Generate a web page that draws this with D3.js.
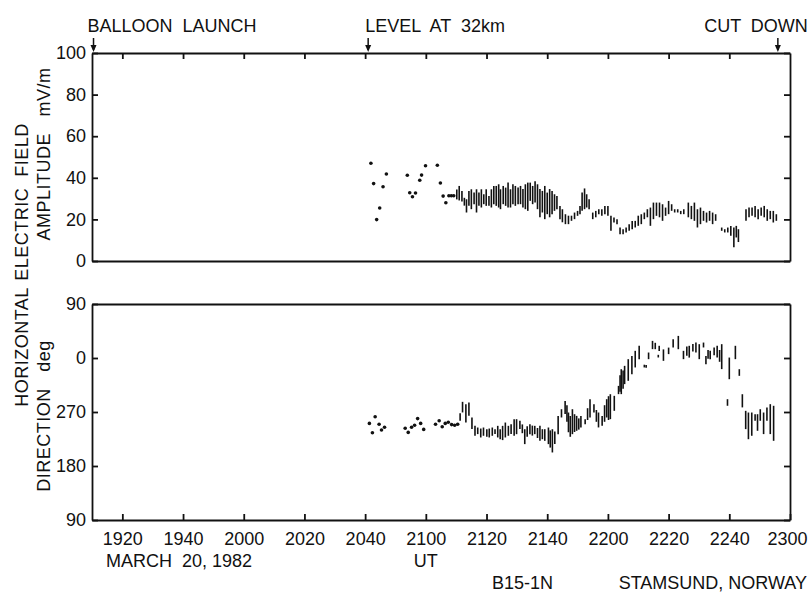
<!DOCTYPE html>
<html>
<head>
<meta charset="utf-8">
<script src="https://cdn.jsdelivr.net/npm/d3@7"></script>
<style>
  body { margin: 0; background: #fff; }
  svg text { font-family: "Liberation Sans", Arial, sans-serif; fill: #111; }
</style>
</head>
<body>
<div id="chart"></div>
<script>
// time is minutes after 19:00 UT (10 = 1910, 240 = 2300)
var timeTicks = [20, 40, 60, 80, 100, 120, 140, 160, 180, 200, 220, 240];
var ampTicks = [0, 20, 40, 60, 80, 100];
var dirTicks = [90, 180, 270, 360, 450];

var eventNames = ["BALLOON  LAUNCH", "LEVEL  AT  32km", "CUT  DOWN"];
var eventTimes = [10.5, 101, 236];

// amplitude, single points (mV/m)
var ampDotT = [101.9, 102.8, 103.8, 104.8, 105.9, 107.0, 113.9, 114.7, 115.6, 116.6, 118.0, 118.6, 119.9,
  123.8, 124.8, 125.7, 126.6, 127.6, 128.4, 129.2];
var ampDotV = [47, 37.2, 19.9, 25.5, 35.7, 41.8, 41.2, 32.8, 30.9, 32.7, 38.8, 41.3, 45.8,
  46, 37.5, 31.2, 28, 31.4, 31.4, 31.4];

// amplitude, min/max bars (mV/m)
var ampBarT = [130.2, 131.0, 131.9, 132.7, 133.4, 134.2, 135.0, 135.9, 136.7, 137.5, 138.3, 139.1, 139.9,
  140.8, 141.6, 142.4, 143.2, 144.0, 144.6, 145.5, 146.3, 147.1, 147.9, 148.7, 149.5, 150.4,
  151.2, 152.0, 152.8, 153.6, 154.4, 155.2, 156.0, 156.8, 157.6, 158.4, 159.2, 160.0, 160.8,
  161.6, 162.4, 163.2, 164.2, 165.0, 166.0, 167.0, 168.0, 169.0, 170.0, 170.8, 171.5, 172.3,
  173.0, 173.8, 175.0, 176.0, 177.0, 178.0, 179.0, 180.0, 181.0, 182.0, 183.0, 184.0, 185.0,
  186.0, 187.0, 188.0, 189.0, 190.0, 191.0, 192.0, 193.0, 194.0, 195.0, 196.0, 197.0, 198.0,
  199.0, 200.0, 201.0, 202.0, 203.0, 204.0, 205.0, 206.5, 207.5, 208.5, 209.5, 210.5, 211.5,
  212.5, 213.5, 214.5, 215.5, 217.5, 218.5, 219.5, 220.5, 221.5, 222.3, 223.0, 225.5, 226.5,
  227.5, 228.5, 229.5, 230.5, 231.5, 232.5, 233.5, 234.5, 235.5];
var ampBarLo = [30, 29.5, 29, 27, 23.7, 26.9, 25.3, 27.7, 23.7, 26.9, 26.1, 27.7, 26.9,
  26.9, 26.1, 27.7, 26.9, 26.1, 25.3, 27.7, 26.9, 26.1, 26.1, 27.7, 26.9, 27.7,
  27.7, 26.1, 25.3, 24.5, 29.3, 27.7, 28.5, 25.3, 21.4, 23.7, 20.5, 22.9, 21.4,
  22.9, 24.5, 25.3, 20.5, 19.0, 18.1, 18.1, 19.7, 20.5, 22.1, 22.9, 24.5, 25.3,
  26.1, 25.3, 20.5, 21.4, 22.9, 22.1, 22.9, 22.1, 14.9, 18.9, 18.1, 13.3, 13.3,
  14.1, 14.9, 15.7, 16.5, 17.3, 18.1, 20.5, 21.4, 17.3, 20.5, 22.1, 21.4, 19.7,
  22.1, 22.9, 24.5, 23.7, 23.7, 22.9, 22.9, 21.4, 20.5, 19.7, 16.5, 18.1, 19.7,
  18.9, 19.7, 18.1, 19.7, 14.9, 14.1, 14.1, 12.5, 7.0, 11.7, 9.5, 19.7, 21.4,
  22.1, 21.4, 20.5, 22.1, 21.4, 19.7, 20.5, 18.9, 19.7];
var ampBarHi = [34, 35.7, 33.3, 30, 29.3, 33.3, 34.1, 32.5, 34.1, 32.5, 34.1, 31.7, 34.1,
  30.9, 34.1, 35.7, 35.7, 36.5, 34.1, 35.7, 34.9, 37.3, 34.1, 36.5, 35.7, 34.9,
  35.7, 34.2, 36.5, 37.3, 37.3, 35.7, 38.0, 36.5, 34.2, 33.3, 35.7, 32.5, 34.2,
  33.3, 31.7, 30.9, 26.1, 24.5, 22.1, 21.4, 21.4, 22.9, 23.7, 26.1, 32.5, 34.5,
  31.7, 29.3, 22.9, 23.7, 24.5, 24.5, 26.1, 26.1, 21.4, 20.5, 19.7, 15.7, 14.9,
  15.7, 17.3, 18.9, 18.9, 21.4, 22.1, 22.9, 24.5, 25.3, 27.7, 27.7, 27.7, 26.9,
  25.3, 28.5, 26.9, 24.5, 24.5, 23.7, 24.5, 27.7, 26.1, 27.7, 24.5, 25.3, 23.7,
  22.9, 23.7, 22.9, 22.1, 15.7, 14.9, 15.7, 16.5, 15.7, 16.5, 14.9, 24.5, 25.3,
  25.3, 26.1, 24.5, 25.3, 26.1, 24.5, 23.7, 23.7, 22.1];

// direction, single points (deg, 360 = 0)
var dirDotT = [101.4, 102.4, 103.3, 104.6, 105.4, 106.4, 113.2, 114.2, 115.3, 116.3, 117.3, 118.3, 119.3,
  123.2, 124.4, 125.4, 126.4, 127.4, 128.5, 129.5, 130.5];
var dirDotV = [251, 235.5, 262, 249.5, 240, 244.5, 243, 236, 244.5, 248, 259, 251, 241,
  249.5, 255.5, 245.5, 251, 253, 249, 248, 249.5];

// direction, min/max bars (deg)
var dirBarT = [131.3, 132.1, 133.2, 134.2, 135.2, 136.2, 137.1, 138.1, 139.0, 140.1, 140.9, 141.9, 142.8,
  143.7, 144.5, 145.3, 146.2, 147.2, 148.1, 149.1, 149.9, 151.0, 151.8, 152.6, 153.4, 154.3,
  155.1, 155.9, 156.8, 157.6, 158.4, 159.2, 160.4, 161.0, 161.7, 162.5, 163.6, 164.7, 165.9,
  166.5, 167.0, 167.6, 168.3, 169.0, 169.7, 170.4, 171.1, 172.5, 173.3, 174.1, 175.4, 176.2,
  176.9, 178.1, 178.9, 179.6, 180.2, 180.8, 182.1, 183.5, 184.0, 184.4, 185.0, 185.5, 186.7,
  187.9, 189.0, 190.3, 192.0, 192.6, 193.4, 194.7, 195.6, 196.6, 196.9, 198.3, 200.0, 201.5,
  203.2, 204.9, 206.0, 206.8, 208.0, 209.0, 210.1, 211.5, 212.3, 213.0, 213.7, 215.0, 216.0,
  216.8, 217.5, 219.4, 220.0, 222.0, 223.3, 224.3, 225.4, 226.3, 227.4, 228.5, 229.3, 230.2,
  231.3, 232.4, 233.5, 234.6];
var dirBarLo = [256.7, 270.6, 253.9, 265, 242.8, 231.7, 234.5, 228.9, 231.7, 230, 228.9, 231.7, 234.5,
  228.9, 226.1, 224.5, 228.9, 231.7, 234.5, 231.7, 234.4, 242.8, 236, 217.8, 230, 234.4,
  232, 234.4, 228, 223.3, 226, 223.3, 217.8, 212, 203.9, 218, 234.4, 262.2, 267.8,
  255, 237.6, 230, 234.4, 238, 240, 242, 245.6, 251.1, 258, 262.2, 270.6, 255,
  245.6, 248.3, 255, 262.2, 258, 259.4, 273.3, 301.1, 305, 301.1, 310, 317.8, 323.3,
  334.4, 345.6, 359.4, 345.6, 345, 359.4, 376.1, 376, 362.2, 373, 356.6, 367.8, 379,
  376, 359.4, 365, 362, 372, 370.5, 359.4, 378.9, 351, 360, 359.4, 366, 362,
  355, 342.8, 281.7, 326, 359.4, 331.6, 279, 242.8, 226, 231.7, 256.7, 240, 256.7,
  234.5, 256.7, 234.5, 223.3];
var dirBarHi = [266.7, 285.6, 281.7, 284.5, 259.5, 245.6, 242.8, 241.1, 242.8, 240, 241.1, 242.8, 240,
  245.6, 240, 245.6, 251.1, 245.6, 248.4, 256.7, 256.7, 253.9, 248, 240, 245, 248.3,
  246, 245.6, 242, 245.6, 240, 240, 242.8, 238, 240, 236, 262.2, 273.3, 287.2,
  280, 267.8, 262, 273.3, 265, 262.2, 258, 262.2, 256.7, 275, 290, 281.7, 272,
  267.8, 262.2, 280, 290, 295, 298.3, 295.6, 312.2, 330, 340, 338, 345.6, 356.7,
  362.2, 370.6, 379, 347.5, 347, 367.8, 387.2, 384, 364, 379, 373, 376, 390,
  395.5, 370.6, 378, 379, 382, 384.5, 381.7, 384.4, 362, 372, 370.6, 376, 379,
  372, 381.7, 290, 359.4, 379, 340, 298.3, 270.6, 267.8, 267.8, 265, 265, 273.3,
  267.8, 276, 281.7, 279];

var W = 809, H = 592;
var svg = d3.select("#chart").append("svg").attr("width", W).attr("height", H);

var x = d3.scaleLinear().domain([10, 240]).range([92, 790]);
var yA = d3.scaleLinear().domain([0, 100]).range([261, 53]);
var yD = d3.scaleLinear().domain([90, 450]).range([520, 304]);

function hhmm(m) {
  var h = 19 + Math.floor(m / 60), mm = m % 60;
  return "" + h + (mm < 10 ? "0" : "") + mm;
}

function styleAxis(g) {
  g.attr("font-family", null).attr("font-size", null);
  g.selectAll("path, line").attr("stroke", "#111").attr("stroke-width", 1.8);
  g.selectAll("text").style("font-size", "18px").attr("fill", "#111");
}

// top panel frame and ticks
svg.append("g").attr("transform", "translate(0,53)")
  .call(d3.axisTop(x).tickValues(timeTicks.slice(0, -1)).tickSize(-6).tickSizeOuter(0).tickFormat(""))
  .call(styleAxis);
svg.append("g").attr("transform", "translate(0,261)")
  .call(d3.axisBottom(x).tickValues([]).tickSizeOuter(0))
  .call(styleAxis);
svg.append("g").attr("transform", "translate(92,0)")
  .call(d3.axisLeft(yA).tickValues(ampTicks).tickSize(-6).tickSizeOuter(0).tickPadding(6))
  .call(styleAxis);
svg.append("g").attr("transform", "translate(790,0)")
  .call(d3.axisRight(yA).tickValues(ampTicks).tickSize(-6).tickSizeOuter(0).tickFormat(""))
  .call(styleAxis);

// bottom panel frame and ticks
svg.append("g").attr("transform", "translate(0,304)")
  .call(d3.axisTop(x).tickValues([]).tickSizeOuter(0))
  .call(styleAxis);
var xAxisG = svg.append("g").attr("transform", "translate(0,520)")
  .call(d3.axisBottom(x).tickValues(timeTicks).tickSize(-6).tickSizeOuter(0).tickPadding(12).tickFormat(hhmm))
  .call(styleAxis);
// last label sits against the right edge of the page
xAxisG.selectAll(".tick text").filter(function(d) { return d === 240; })
  .attr("text-anchor", "end").attr("x", 17);
svg.append("g").attr("transform", "translate(92,0)")
  .call(d3.axisLeft(yD).tickValues(dirTicks).tickSize(-6).tickSizeOuter(0).tickPadding(6)
    .tickFormat(function(d) { return d % 360; }))
  .call(styleAxis);
svg.append("g").attr("transform", "translate(790,0)")
  .call(d3.axisRight(yD).tickValues(dirTicks).tickSize(-6).tickSizeOuter(0).tickFormat(""))
  .call(styleAxis);

// amplitude marks
svg.append("g").selectAll("line")
  .data(d3.range(ampBarT.length))
  .enter().append("line")
  .attr("x1", function(i) { return x(ampBarT[i]); })
  .attr("x2", function(i) { return x(ampBarT[i]); })
  .attr("y1", function(i) { return yA(ampBarLo[i]); })
  .attr("y2", function(i) { return yA(ampBarHi[i]); })
  .attr("stroke", "#111").attr("stroke-width", 1.6).attr("stroke-linecap", "square");
svg.append("g").selectAll("circle")
  .data(d3.range(ampDotT.length))
  .enter().append("circle")
  .attr("cx", function(i) { return x(ampDotT[i]); })
  .attr("cy", function(i) { return yA(ampDotV[i]); })
  .attr("r", 1.8).attr("fill", "#111");

// direction marks
svg.append("g").selectAll("line")
  .data(d3.range(dirBarT.length))
  .enter().append("line")
  .attr("x1", function(i) { return x(dirBarT[i]); })
  .attr("x2", function(i) { return x(dirBarT[i]); })
  .attr("y1", function(i) { return yD(dirBarLo[i]); })
  .attr("y2", function(i) { return yD(dirBarHi[i]); })
  .attr("stroke", "#111").attr("stroke-width", 1.6).attr("stroke-linecap", "square");
svg.append("g").selectAll("circle")
  .data(d3.range(dirDotT.length))
  .enter().append("circle")
  .attr("cx", function(i) { return x(dirDotT[i]); })
  .attr("cy", function(i) { return yD(dirDotV[i]); })
  .attr("r", 1.8).attr("fill", "#111");

// event labels with arrows
var evAnchor = ["start", "start", "end"];
var evDx = [-6, -3, 30];
eventNames.forEach(function(name, i) {
  var ex = x(eventTimes[i]);
  svg.append("text").attr("x", ex + evDx[i]).attr("y", 32)
    .attr("text-anchor", evAnchor[i]).style("font-size", "18px").style("white-space", "pre")
    .text(name);
  svg.append("line").attr("x1", ex).attr("x2", ex).attr("y1", 38).attr("y2", 50)
    .attr("stroke", "#111").attr("stroke-width", 1.5);
  svg.append("path").attr("d", "M" + (ex - 3) + ",45L" + (ex + 3) + ",45L" + ex + ",52Z").attr("fill", "#111");
});

// axis titles
function vtext(tx, ty, s) {
  svg.append("text").attr("transform", "translate(" + tx + "," + ty + ") rotate(-90)")
    .attr("text-anchor", "middle").style("font-size", "18px").style("white-space", "pre")
    .style("letter-spacing", "0.5px").text(s);
}
vtext(28, 202, "ELECTRIC  FIELD");
vtext(50, 154, "AMPLITUDE   mV/m");
vtext(28, 347, "HORIZONTAL");
vtext(50, 416, "DIRECTION   deg");

// bottom notes
svg.append("text").attr("x", 106).attr("y", 567).style("font-size", "18px").style("white-space", "pre").text("MARCH  20, 1982");
svg.append("text").attr("x", x(120)).attr("y", 567).attr("text-anchor", "middle").style("font-size", "18px").text("UT");
svg.append("text").attr("x", 492).attr("y", 589).style("font-size", "18px").text("B15-1N");
svg.append("text").attr("x", 807).attr("y", 589).attr("text-anchor", "end").style("font-size", "18px").text("STAMSUND, NORWAY");
</script>
</body>
</html>
